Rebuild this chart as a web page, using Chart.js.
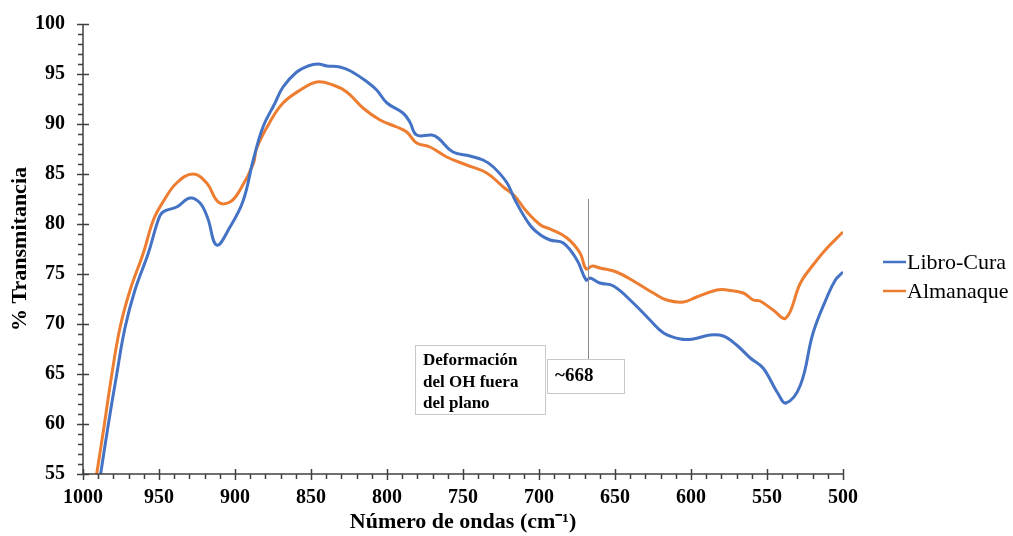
<!DOCTYPE html>
<html>
<head>
<meta charset="utf-8">
<script src="https://cdn.jsdelivr.net/npm/chart.js@4.4.1/dist/chart.umd.min.js"></script>
<style>
  html, body { margin: 0; padding: 0; background: #fff; }
  #ftir { display: block; }
</style>
</head>
<body>
<canvas id="ftir" width="1013" height="536"></canvas>
<script>
// Libro-Cura curve (wavenumber cm-1 / % transmittance)
var libroX = [988.4, 983.4, 977.9, 972.4, 965.8, 957, 950.5, 947.4, 938.4, 929.6, 923, 918, 912, 903.3, 894.7, 888, 881.6, 874, 868.4, 859.4, 852, 845.4, 839.5, 831, 824, 813, 806.8, 800, 789.5, 785, 780.5, 770.6, 766.4, 756.6, 745.4, 736.8, 730, 721, 715.8, 706, 699, 692.7, 684, 675, 669, 666.4, 660, 651, 638, 627, 618, 607, 598.5, 587.5, 578.7, 570, 561, 552.6, 543, 537.5, 528, 519.7, 510.5, 505, 500];
var libroY = [55, 59.9, 64.9, 69.6, 73.4, 77.1, 80.4, 81.2, 81.7, 82.6, 82.1, 80.6, 77.9, 79.7, 82.3, 86.4, 89.7, 92.0, 93.7, 95.2, 95.8, 96.0, 95.8, 95.7, 95.3, 94.2, 93.4, 92.1, 91.1, 90.2, 88.9, 88.9, 88.6, 87.2, 86.8, 86.4, 85.7, 84.1, 82.4, 79.9, 78.9, 78.4, 78.1, 76.4, 74.4, 74.6, 74.1, 73.8, 72.1, 70.4, 69.1, 68.5, 68.5, 68.9, 68.8, 67.9, 66.6, 65.6, 63.1, 62.1, 63.9, 69.1, 72.7, 74.4, 75.2];

// Almanaque curve
var almaX = [991, 986, 981.1, 975.7, 969, 960.3, 953.7, 947.4, 938.4, 927.6, 918.6, 911, 903.3, 896.7, 888, 885.7, 877, 868.4, 857, 846.2, 835.5, 826.5, 815.8, 804.6, 793.6, 787, 780.5, 771.7, 760.7, 747.6, 734.4, 723.5, 716, 709, 699, 692.7, 681.6, 673, 669, 665, 660, 649, 635.7, 624.8, 616, 605, 596.3, 583, 576.5, 565.6, 559, 554.6, 546, 537.5, 528, 519.7, 510.5, 500];
var almaY = [55, 59.9, 64.9, 69.6, 73.4, 77.1, 80.4, 82.2, 84.1, 85.0, 84.1, 82.2, 82.2, 83.4, 86.0, 87.6, 90.2, 92.1, 93.4, 94.2, 93.9, 93.2, 91.6, 90.4, 89.7, 89.2, 88.1, 87.7, 86.7, 85.9, 85.1, 83.7, 82.8, 81.4, 79.9, 79.5, 78.6, 77.1, 75.5, 75.8, 75.6, 75.2, 74.1, 73.1, 72.4, 72.2, 72.7, 73.4, 73.4, 73.1, 72.4, 72.3, 71.4, 70.6, 74.1, 75.9, 77.6, 79.2];

var seriesNames = ["Libro-Cura", "Almanaque"];
var seriesColors = ["#4472C4", "#ED7D31"];
var xTickValues = [1000, 950, 900, 850, 800, 750, 700, 650, 600, 550, 500];
var yTickValues = [55, 60, 65, 70, 75, 80, 85, 90, 95, 100];
var bandPeak = 668;
var bandLabel = "~668";
var bandNote = ["Deformación", "del OH fuera", "del plano"];

var SERIF = '"Liberation Serif", "Times New Roman", serif';
var AXIS = '#404040';

function pairs(xs, ys) {
    return xs.map(function (x, i) { return { x: x, y: ys[i] }; });
}

// axis lines, major/minor tick marks, legend and the band annotation
var extras = {
    id: 'extras',
    afterDraw: function (chart) {
        var c = chart.ctx, a = chart.chartArea;
        var xs = chart.scales.x, ys = chart.scales.y;
        c.save();
        c.strokeStyle = AXIS;
        c.lineWidth = 1.5;
        c.beginPath();
        c.moveTo(a.left, a.top); c.lineTo(a.left, a.bottom); c.lineTo(a.right, a.bottom);
        c.stroke();

        c.beginPath();
        for (var v = 55; v <= 100; v++) {
            var py = Math.round(ys.getPixelForValue(v)) + 0.5;
            var major = v % 5 === 0;
            c.moveTo(a.left - (major ? 6 : 5), py);
            c.lineTo(a.left + (major ? 6 : 0), py);
        }
        for (var w = 500; w <= 1000; w += 10) {
            var px = Math.round(xs.getPixelForValue(w)) + 0.5;
            var maj = w % 50 === 0;
            c.moveTo(px, a.bottom - (maj ? 5 : 0));
            c.lineTo(px, a.bottom + (maj ? 6 : 5));
        }
        c.stroke();

        // legend
        c.font = '22px ' + SERIF;
        c.textBaseline = 'middle';
        c.textAlign = 'left';
        chart.data.datasets.forEach(function (ds, i) {
            var ly = 262 + i * 29;
            c.strokeStyle = ds.borderColor;
            c.lineWidth = 2.5;
            c.beginPath(); c.moveTo(883, ly); c.lineTo(906, ly); c.stroke();
            c.fillStyle = '#000';
            c.fillText(ds.label, 907, ly + 1);
        });

        // band annotation
        var bx = Math.round(xs.getPixelForValue(bandPeak)) + 0.5;
        c.strokeStyle = '#8c8c8c';
        c.lineWidth = 1;
        c.beginPath(); c.moveTo(bx, 199); c.lineTo(bx, 359); c.stroke();

        c.fillStyle = '#fff';
        c.strokeStyle = '#c8c8c8';
        c.fillRect(415, 345, 130, 69); c.strokeRect(415.5, 345.5, 130, 69);
        c.fillRect(547, 359, 77, 34); c.strokeRect(547.5, 359.5, 77, 34);

        c.fillStyle = '#000';
        c.font = 'bold 17px ' + SERIF;
        bandNote.forEach(function (t, i) { c.fillText(t, 423, 361 + i * 21.5); });
        c.font = 'bold 19px ' + SERIF;
        c.fillText(bandLabel, 555, 376);
        c.restore();
    }
};

var ctx = document.getElementById('ftir').getContext('2d');
var chart = new Chart(ctx, {
    type: 'line',
    data: {
        datasets: [{
            label: seriesNames[0],
            data: pairs(libroX, libroY),
            borderColor: seriesColors[0],
            backgroundColor: seriesColors[0],
            borderWidth: 3,
            pointRadius: 0,
            tension: 0.4,
            fill: false
        }, {
            label: seriesNames[1],
            data: pairs(almaX, almaY),
            borderColor: seriesColors[1],
            backgroundColor: seriesColors[1],
            borderWidth: 3,
            pointRadius: 0,
            tension: 0.4,
            fill: false
        }]
    },
    options: {
        responsive: false,
        devicePixelRatio: 1,
        animation: false,
        layout: { padding: { top: 24, right: 170, left: 0, bottom: 0 } },
        plugins: { legend: { display: false }, tooltip: { enabled: false } },
        scales: {
            x: {
                type: 'linear',
                reverse: true,
                min: 500,
                max: 1000,
                afterBuildTicks: function (s) { s.ticks = xTickValues.map(function (v) { return { value: v }; }); },
                afterFit: function (s) { s.height = 62; },
                grid: { display: false, drawTicks: false },
                border: { display: false },
                ticks: { color: '#000', padding: 12, maxRotation: 0, callback: function (v) { return String(v); }, font: { family: SERIF, size: 20, weight: 'bold' } },
                title: { display: true, text: 'Número de ondas (cm⁻¹)', color: '#000', padding: 0, font: { family: SERIF, size: 22, weight: 'bold' } }
            },
            y: {
                min: 55,
                max: 100,
                afterBuildTicks: function (s) { s.ticks = yTickValues.map(function (v) { return { value: v }; }); },
                afterFit: function (s) { s.width = 83; s.paddingTop = 0; s.paddingBottom = 0; },
                grid: { display: false, drawTicks: false },
                border: { display: false },
                ticks: { color: '#000', padding: 18, callback: function (v) { return String(v); }, font: { family: SERIF, size: 20, weight: 'bold' } },
                title: { display: true, text: '% Transmitancia', color: '#000', padding: { top: 7, bottom: 0 }, font: { family: SERIF, size: 22, weight: 'bold' } }
            }
        }
    },
    plugins: [extras]
});
</script>
</body>
</html>
